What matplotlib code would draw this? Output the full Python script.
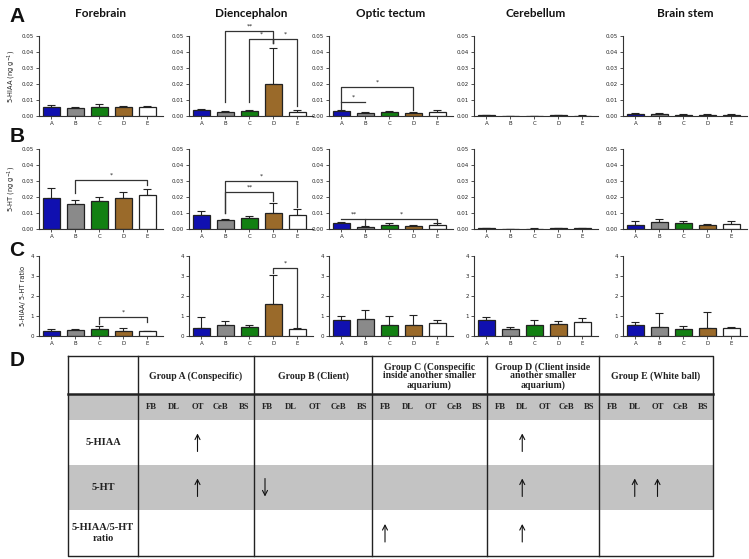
import matplotlib
matplotlib.use("Agg")
import matplotlib.pyplot as plt
import numpy as np

W, H = 749, 559

regions = ['Forebrain', 'Diencephalon', 'Optic tectum', 'Cerebellum', 'Brain stem']
groups = ['A', 'B', 'C', 'D', 'E']
bar_colors = ['#1010b0', '#8a8a8a', '#128012', '#9a6a2a', '#ffffff']

# 5-HIAA (ng g-1), per region, per group
hiaa_mean = [[0.0058, 0.0048, 0.0058, 0.0054, 0.0056],
             [0.0038, 0.0027, 0.0029, 0.0200, 0.0025],
             [0.0029, 0.0019, 0.0027, 0.0019, 0.0025],
             [0.0004, 0.0002, 0.0002, 0.0004, 0.0003],
             [0.0013, 0.0010, 0.0008, 0.0006, 0.0008]]
hiaa_err = [[0.0009, 0.0006, 0.0019, 0.0011, 0.0004],
            [0.0008, 0.0004, 0.0006, 0.0227, 0.0010],
            [0.0006, 0.0004, 0.0006, 0.0004, 0.0010],
            [0.0002, 0.0001, 0.0001, 0.0002, 0.0001],
            [0.0006, 0.0007, 0.0007, 0.0007, 0.0007]]
# 5-HT (ng g-1)
ht_mean = [[0.0192, 0.0154, 0.0175, 0.0192, 0.0212],
           [0.0090, 0.0054, 0.0069, 0.0098, 0.0088],
           [0.0035, 0.0015, 0.0025, 0.0020, 0.0025],
           [0.0005, 0.0002, 0.0003, 0.0005, 0.0004],
           [0.0027, 0.0041, 0.0037, 0.0027, 0.0033]]
ht_err = [[0.0066, 0.0025, 0.0023, 0.0039, 0.0040],
          [0.0020, 0.0011, 0.0010, 0.0062, 0.0037],
          [0.0010, 0.0005, 0.0010, 0.0003, 0.0010],
          [0.0003, 0.0001, 0.0001, 0.0003, 0.0002],
          [0.0022, 0.0020, 0.0012, 0.0004, 0.0014]]
# 5-HIAA / 5-HT ratio
ratio_mean = [[0.27, 0.30, 0.36, 0.24, 0.24],
              [0.39, 0.57, 0.47, 1.58, 0.34],
              [0.80, 0.86, 0.56, 0.56, 0.64],
              [0.80, 0.35, 0.55, 0.60, 0.70],
              [0.55, 0.45, 0.35, 0.40, 0.40]]
ratio_err = [[0.09, 0.07, 0.13, 0.17, 0.03],
             [0.58, 0.19, 0.07, 1.45, 0.06],
             [0.18, 0.43, 0.42, 0.49, 0.17],
             [0.17, 0.10, 0.25, 0.15, 0.22],
             [0.17, 0.70, 0.15, 0.80, 0.05]]

rows = [(hiaa_mean, hiaa_err, 0.05, [0, 0.01, 0.02, 0.03, 0.04, 0.05],
         ['0.00', '0.01', '0.02', '0.03', '0.04', '0.05'], '5-HIAA (ng g$^{-1}$)'),
        (ht_mean, ht_err, 0.05, [0, 0.01, 0.02, 0.03, 0.04, 0.05],
         ['0.00', '0.01', '0.02', '0.03', '0.04', '0.05'], '5-HT (ng g$^{-1}$)'),
        (ratio_mean, ratio_err, 4, [0, 1, 2, 3, 4],
         ['0', '1', '2', '3', '4'], '5-HIAA/ 5-HT ratio')]

# significance brackets: (row, region, g1, g2, level, label, drop1, drop2)
brackets = [(0, 1, 1, 3, 0.0533, '**', 0.009, 0.0458),
            (0, 1, 2, 3, 0.0479, '*', 0.009, 0.0458),
            (0, 1, 3, 4, 0.0479, '*', 0.0458, 0.0063),
            (0, 2, 0, 3, 0.0179, '*', 0.0042, 0.0038),
            (0, 2, 0, 1, 0.0088, '*', None, None),
            (1, 0, 1, 4, 0.0308, '*', 0.0223, 0.0275),
            (1, 1, 1, 4, 0.0300, '*', 0.0098, 0.0140),
            (1, 1, 1, 3, 0.0229, '**', 0.0098, 0.0177),
            (1, 2, 0, 1, 0.0062, '**', None, None),
            (1, 2, 1, 4, 0.0062, '*', 0.0025, 0.0045),
            (2, 0, 2, 4, 0.97, '*', 0.61, 0.68),
            (2, 1, 3, 4, 3.41, '*', 3.16, 0.44)]

col_x0 = [39, 189, 329, 474, 623]
row_top = [36, 149, 256]
ax_w, ax_h = 124, 80

fig = plt.figure(figsize=(W / 100, H / 100), dpi=100)
fig.patch.set_facecolor('white')

axes = {}
for r, (mean, err, ymax, yt, ytl, ylab) in enumerate(rows):
    for c in range(5):
        x0 = col_x0[c]
        top = row_top[r]
        ax = fig.add_axes([x0 / W, 1 - (top + ax_h) / H, ax_w / W, ax_h / H])
        axes[(r, c)] = ax
        x = np.arange(5)
        e = np.array(err[c])
        ax.bar(x, mean[c], width=0.7, color=bar_colors, edgecolor='#222222',
               linewidth=0.9, zorder=2)
        ax.errorbar(x, mean[c], yerr=[np.zeros(5), e], fmt='none', ecolor='#222222',
                    elinewidth=0.8, capsize=3, capthick=0.8, zorder=1)
        ax.set_xlim(-0.52, 4.65)
        ax.set_ylim(0, ymax)
        ax.set_yticks(yt)
        ax.set_yticklabels(ytl)
        ax.set_xticks(x)
        ax.set_xticklabels(groups)
        for s in ['top', 'right']:
            ax.spines[s].set_visible(False)
        for s in ['left', 'bottom']:
            ax.spines[s].set_linewidth(0.8)
            ax.spines[s].set_color('#333333')
        ax.tick_params(axis='both', labelsize=4, length=2, width=0.6, pad=1.5,
                       colors='#333333', labelcolor='#222222')
        if c == 0:
            ax.set_ylabel(ylab, fontsize=4.8, labelpad=3, color='#222222')
        if r == 0:
            ax.set_title(regions[c], fontsize=8.5, fontweight='bold',
                         family='Lato', pad=14, color='#111111')

for (r, c, g1, g2, lev, lab, d1, d2) in brackets:
    ax = axes[(r, c)]
    xs = [g1, g1, g2, g2]
    ys = [d1 if d1 is not None else lev, lev, lev, d2 if d2 is not None else lev]
    ax.plot(xs, ys, color='#333333', lw=0.9, clip_on=False, zorder=3)
    ymax = ax.get_ylim()[1]
    ax.text((g1 + g2) / 2, lev + ymax * 0.03, lab, ha='center', va='bottom',
            fontsize=4.5, color='#222222', clip_on=False)

# panel letters
for lab, yy in [('A', 17), ('B', 136), ('C', 250), ('D', 360)]:
    fig.text(17 / W, 1 - yy / H, lab, fontsize=15, fontweight='bold',
             family='Liberation Sans', ha='center', va='center', color='#111111')

# ---- Panel D table ----
tab_groups = ['Group A (Conspecific)', 'Group B (Client)',
              'Group C (Conspecific\ninside another smaller\naquarium)',
              'Group D (Client inside\nanother smaller\naquarium)',
              'Group E (White ball)']
sub_regions = ['FB', 'DL', 'OT', 'CeB', 'BS']
measures = ['5-HIAA', '5-HT', '5-HIAA/5-HT\nratio']
# arrows: (measure index, group index, subregion index, direction)
changes = [(0, 0, 2, 'up'), (1, 0, 2, 'up'), (1, 1, 0, 'down'), (2, 2, 0, 'up'),
           (0, 3, 1, 'up'), (1, 3, 1, 'up'), (2, 3, 1, 'up'),
           (1, 4, 1, 'up'), (1, 4, 2, 'up')]

tx = fig.add_axes([0, 0, 1, 1])
tx.set_xlim(0, W)
tx.set_ylim(H, 0)
tx.axis('off')
tx.patch.set_alpha(0)

col_edges = [68, 138, 254, 372, 487, 599, 713]
row_edges = [356, 394, 420, 465, 510, 556]
grey = '#c3c3c3'
for (ya, yb) in [(row_edges[1], row_edges[2]), (row_edges[3], row_edges[4])]:
    tx.fill_between([col_edges[0], col_edges[-1]], ya, yb, color=grey, lw=0, zorder=1)
lc = '#222222'
tx.plot([col_edges[0], col_edges[-1], col_edges[-1], col_edges[0], col_edges[0]],
        [row_edges[0], row_edges[0], row_edges[-1], row_edges[-1], row_edges[0]],
        color=lc, lw=1.0, zorder=3)
for xe in col_edges[1:-1]:
    tx.plot([xe, xe], [row_edges[0], row_edges[-1]], color=lc, lw=1.0, zorder=3)
tx.plot([col_edges[0], col_edges[-1]], [row_edges[1], row_edges[1]], color=lc, lw=1.8, zorder=3)

serif = 'Liberation Serif'
for gi, g in enumerate(tab_groups):
    xc = (col_edges[gi + 1] + col_edges[gi + 2]) / 2
    tx.text(xc, (row_edges[0] + row_edges[1]) / 2 + 1, g, ha='center', va='center',
            fontsize=7, fontweight='bold', family=serif, color='#222222',
            linespacing=1.0, zorder=4)
    gw = col_edges[gi + 2] - col_edges[gi + 1]
    for si, s in enumerate(sub_regions):
        sx = col_edges[gi + 1] + 13 + si * (gw - 23) / 4
        tx.text(sx, (row_edges[1] + row_edges[2]) / 2, s, ha='center', va='center',
                fontsize=6.2, fontweight='bold', family=serif, color='#222222', zorder=4)
for mi, m in enumerate(measures):
    yc = (row_edges[mi + 2] + row_edges[mi + 3]) / 2
    tx.text((col_edges[0] + col_edges[1]) / 2, yc, m, ha='center', va='center',
            fontsize=7.5, fontweight='bold', family=serif, color='#222222',
            linespacing=1.3, zorder=4)
for (mi, gi, si, d) in changes:
    gw = col_edges[gi + 2] - col_edges[gi + 1]
    sx = col_edges[gi + 1] + 13 + si * (gw - 23) / 4
    if gi == 1 and d == 'down':
        sx = col_edges[gi + 1] + 11
    yc = (row_edges[mi + 2] + row_edges[mi + 3]) / 2
    ya, yb = (yc + 9, yc - 9) if d == 'up' else (yc - 9, yc + 9)
    tx.annotate('', xy=(sx, yb), xytext=(sx, ya),
                arrowprops=dict(arrowstyle='->,head_length=0.35,head_width=0.18',
                                color='#111111', lw=0.8, shrinkA=0, shrinkB=0), zorder=4)

fig.savefig('out.png', dpi=100, facecolor='white')
